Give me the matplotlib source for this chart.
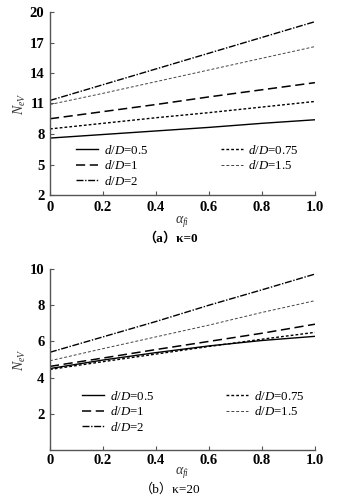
import matplotlib.pyplot as plt

plt.rcParams['font.family'] = ['Liberation Serif', 'Noto Sans CJK SC']
plt.rcParams['mathtext.fontset'] = 'custom'
plt.rcParams['mathtext.rm'] = 'Liberation Serif'
plt.rcParams['mathtext.it'] = 'Liberation Serif:italic'

# Data
alpha = [0, 0.2, 0.4, 0.6, 0.8, 1.0]
labels = ['0.5', '0.75', '1', '1.5', '2']

# (a) kappa = 0
a_05 = [7.6, 7.95, 8.3, 8.65, 9.05, 9.4]
a_075 = [8.5, 9.05, 9.6, 10.1, 10.65, 11.2]
a_1 = [9.5, 10.2, 10.9, 11.65, 12.35, 13.05]
a_15 = [10.9, 12.0, 13.15, 14.3, 15.45, 16.6]
a_2 = [11.3, 12.85, 14.4, 15.95, 17.5, 19.05]

# (b) kappa = 20
b_05 = [4.5, 4.97, 5.38, 5.75, 6.05, 6.28]
b_075 = [4.45, 4.88, 5.3, 5.72, 6.12, 6.5]
b_1 = [4.62, 5.08, 5.55, 6.0, 6.45, 6.95]
b_15 = [4.93, 5.6, 6.25, 6.9, 7.6, 8.25]
b_2 = [5.4, 6.25, 7.1, 8.0, 8.85, 9.72]

styles = {
    '0.5': dict(color='black', lw=1.0, ls='-'),
    '0.75': dict(color='black', lw=1.0, ls=(0, (2, 1.5))),
    '1': dict(color='black', lw=1.1, ls=(0, (6, 3))),
    '1.5': dict(color='#444444', lw=0.7, ls=(0, (3, 2))),
    '2': dict(color='black', lw=1.0, ls=(0, (5, 1.2, 1, 1.2))),
}

fig = plt.figure(figsize=(3.41, 5.0), dpi=100)
ax1 = fig.add_axes([0.1466, 0.61, 0.777, 0.366])
ax2 = fig.add_axes([0.1466, 0.10, 0.777, 0.362])


def draw(ax, series, yticks, ylim, leg_anchor, xpad, xlabpad):
    lines = {}
    for lab, vals in zip(labels, series):
        ln, = ax.plot(alpha, vals, label=r'$d/D$=' + lab, **styles[lab])
        lines[lab] = ln
    ax.set_xlim(0, 1.0)
    ax.set_ylim(*ylim)
    ax.set_xticks([0, 0.2, 0.4, 0.6, 0.8, 1.0])
    ax.set_xticklabels(['0', '0.2', '0.4', '0.6', '0.8', '1.0'])
    ax.set_yticks(yticks)
    for s in ['top', 'right']:
        ax.spines[s].set_visible(False)
    for s in ['left', 'bottom']:
        ax.spines[s].set_color('#555555')
        ax.spines[s].set_linewidth(1.0)
    ax.tick_params(direction='in', length=3, width=0.8, colors='#555555',
                   labelcolor='black', labelsize=10.5, pad=4)
    ax.tick_params(axis='x', pad=xpad)
    for t in ax.get_xticklabels() + ax.get_yticklabels():
        t.set_fontweight('bold')
    ax.set_ylabel(r'$N_{eV}$', fontsize=10, color='#333333', labelpad=1)
    ax.set_xlabel(r'$\alpha_{fi}$', fontsize=10, color='#333333',
                  labelpad=xlabpad)
    order = ['0.5', '1', '2', '0.75', '1.5']
    ax.legend([lines[k] for k in order], [lines[k].get_label() for k in order],
              ncol=2, frameon=False, fontsize=9.3, loc='lower left',
              bbox_to_anchor=leg_anchor, handlelength=1.7, handletextpad=0.45,
              columnspacing=5.6, labelspacing=0.2, borderaxespad=0,
              borderpad=0)


draw(ax1, [a_05, a_075, a_1, a_15, a_2], [2, 5, 8, 11, 14, 17, 20], (2, 20),
     (0.1, 0.04), 4, 0)
draw(ax2, [b_05, b_075, b_1, b_15, b_2], [2, 4, 6, 8, 10], (0, 10),
     (0.12, 0.09), 3, -1.5)

fig.text(0.5, 0.524, '（a）κ=0', ha='center', va='center', fontsize=9.5,
         fontweight='bold')
fig.text(0.5, 0.022, '（b）κ=20', ha='center', va='center', fontsize=9.5)

fig.savefig('out.png', dpi=100)
